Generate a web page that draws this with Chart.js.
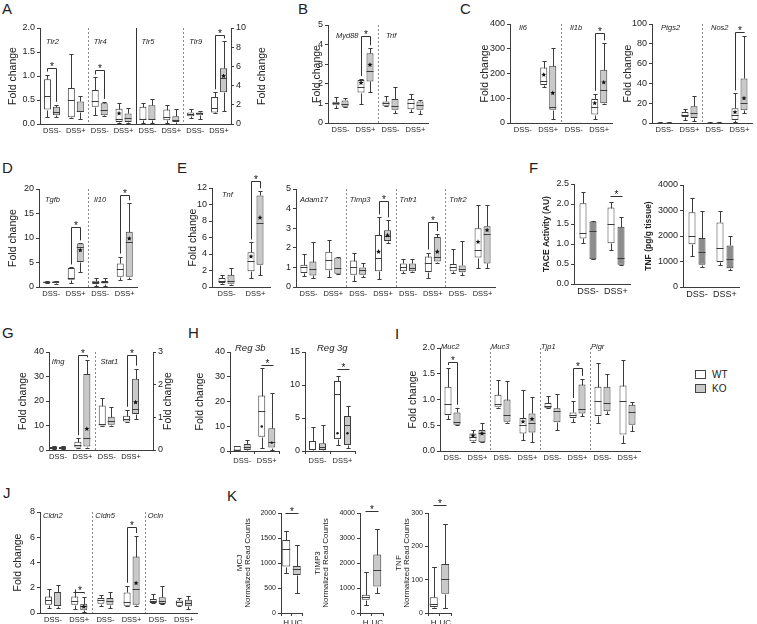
<!DOCTYPE html>
<html>
<head>
<meta charset="utf-8">
<title>Fold change box plots</title>
<script src="https://cdn.jsdelivr.net/npm/chart.js@4.4.1/dist/chart.umd.min.js"></script>
<style>
  body { margin: 0; width: 757px; height: 624px; position: relative; overflow: hidden; background: #fff;
         font-family: "Liberation Sans", Arial, sans-serif; color: #222; }
  canvas { position: absolute; }
  .tag { position: absolute; font-size: 15px; line-height: 15px; }
  .key { position: absolute; left: 695px; font-size: 10px; line-height: 10px; }
  .key i { display: inline-block; width: 9px; height: 7px; border: 1px solid #444; margin-right: 6px; vertical-align: -1px; }
</style>
</head>
<body>
<div class="tag" style="left:2px;top:1px">A</div>
<div class="tag" style="left:298px;top:1px">B</div>
<div class="tag" style="left:460px;top:1px">C</div>
<div class="tag" style="left:2px;top:160px">D</div>
<div class="tag" style="left:177px;top:160px">E</div>
<div class="tag" style="left:529px;top:160px">F</div>
<div class="tag" style="left:2px;top:325px">G</div>
<div class="tag" style="left:188px;top:325px">H</div>
<div class="tag" style="left:395px;top:326px">I</div>
<div class="tag" style="left:3px;top:485px">J</div>
<div class="tag" style="left:227px;top:488px">K</div>
<div class="key" style="top:370px"><i style="background:#fff"></i>WT</div>
<div class="key" style="top:384px"><i style="background:#c9c9c9"></i>KO</div>
<script>
// box stats: [min, q1, median, q3, max, mean]
const dss4 = ['DSS-', 'DSS+', 'DSS-', 'DSS+'];
const dss6 = ['DSS-', 'DSS+', 'DSS-', 'DSS+', 'DSS-', 'DSS+'];
const dss8 = ['DSS-', 'DSS+', 'DSS-', 'DSS+', 'DSS-', 'DSS+', 'DSS-', 'DSS+'];
const dss2 = ['DSS-', 'DSS+'];

// A
const tlrGenes = ['Tlr2', 'Tlr4', 'Tlr5', 'Tlr9'];
const tlrWT = [[0.15, 0.3, 0.58, 0.93, 1.03], [0.13, 0.14, 0.5, 0.75, 1.45], [0.18, 0.36, 0.48, 0.71, 0.97],
  [0.02, 0.04, 0.11, 0.32, 0.43, 0.22], [0.02, 0.09, 0.1, 0.36, 0.44], [0.02, 0.08, 0.15, 0.3, 0.4], null, null];
const tlrKO = [[0.14, 0.18, 0.24, 0.36, 0.4], [0.1, 0.25, 0.27, 0.47, 0.59], [0.16, 0.18, 0.29, 0.43, 0.46],
  [0.02, 0.04, 0.13, 0.22, 0.34], [0.02, 0.09, 0.1, 0.39, 0.53], [0.01, 0.04, 0.08, 0.16, 0.32], null, null];
const tlr9WT = [null, null, null, null, null, null, [0.6, 0.8, 1.0, 1.2, 1.6], [1.1, 1.2, 1.7, 2.8, 3.3]];
const tlr9KO = [null, null, null, null, null, null, [0.5, 0.9, 1.1, 1.2, 1.4], [1.4, 3.3, 4.8, 5.8, 8.6, 5.0]];
const tlrSig = [[0, 1.17], [2, 1.13], [7, 9.3]];

// B
const mydGenes = ['Myd88', 'Trif'];
const mydWT = [[0.78, 0.9, 1.0, 1.08, 1.35], [0.95, 1.55, 1.85, 2.2, 2.24, 2.05], [0.85, 0.88, 1.0, 1.1, 1.36], [0.58, 0.7, 1.0, 1.22, 1.5]];
const mydKO = [[0.8, 0.83, 0.97, 1.15, 1.27], [1.6, 2.12, 2.63, 3.56, 3.81, 2.97], [0.5, 0.68, 0.88, 1.22, 1.83], [0.45, 0.68, 0.9, 1.1, 1.17]];
const mydSig = [[1, 4.44]];

// C
const ilGenes = ['Il6', 'Il1b'];
const ilWT = [[0, 0.5, 1, 1.5, 2], [145, 154, 170, 224, 251, 195], [0, 0.5, 1, 1.5, 2], [16, 34, 64, 97, 118, 80]];
const ilKO = [[0, 0.5, 1, 1.5, 2], [16, 54, 64, 231, 302, 121], [0, 0.5, 1, 1.5, 2], [76, 80, 134, 215, 322, 164]];
const ilSig = [[3, 362]];
const ptGenes = ['Ptgs2', 'Nos2'];
const ptWT = [[0, 0.2, 0.5, 0.8, 1], [3, 6, 8, 11, 14], [0, 0.2, 0.5, 0.8, 1], [1, 3, 8, 15, 30, 11]];
const ptKO = [[0, 0.2, 0.5, 0.8, 1], [2, 5, 10, 17, 27], [0, 0.2, 0.5, 0.8, 1], [10, 13, 20, 45, 88, 25]];
const ptSig = [[3, 92]];

// D
const tgGenes = ['Tgfb', 'Il10'];
const tgWT = [[0.8, 0.9, 1.0, 1.1, 1.2], [0.8, 1.5, 1.8, 3.9, 4.0], [0.3, 0.6, 1.0, 1.3, 1.8], [1.4, 2.1, 3.6, 4.8, 6.2]];
const tgKO = [[0.7, 0.85, 1.0, 1.15, 1.3], [3.1, 5.1, 8.1, 8.9, 8.9, 7.5], [0.3, 0.7, 1.0, 1.2, 1.8], [1.7, 2.1, 9.2, 11.3, 17.1, 9.9]];
const tgSig = [[1, 12.3], [3, 18.8]];

// E
const tnfGenes = ['Tnf'];
const tnfWT = [[0.4, 0.5, 0.7, 1.1, 1.5], [1.1, 1.9, 3.1, 4.2, 5.4, 3.7]];
const tnfKO = [[0.3, 0.4, 0.7, 1.5, 2.3], [1.5, 2.7, 7.8, 11.1, 11.6, 8.4]];
const tnfSig = [[1, 12.9]];
const adamGenes = ['Adam17', 'Timp3', 'Tnfr1', 'Tnfr2'];
const adamWT = [[0.54, 0.71, 1.0, 1.14, 1.68], [0.5, 0.85, 1.4, 1.8, 2.4], [0.33, 0.63, 1.0, 1.35, 1.76], [0.4, 0.8, 1.46, 2.65, 3.55, 1.8],
  [0.7, 0.8, 1.0, 1.2, 1.45], [0.45, 0.77, 1.25, 1.55, 1.76], [0.7, 0.8, 1.0, 1.17, 1.93], [0.97, 1.5, 1.9, 3.0, 4.2, 2.3]];
const adamKO = [[0.45, 0.59, 0.9, 1.3, 2.3], [0.65, 0.68, 0.97, 1.5, 1.55], [0.5, 0.63, 0.86, 1.0, 1.25], [2.25, 2.35, 2.6, 2.9, 3.4, 2.63],
  [0.75, 0.8, 0.95, 1.2, 1.45], [1.2, 1.3, 1.55, 2.55, 2.7, 1.8], [0.6, 0.75, 0.93, 1.1, 2.36], [0.97, 1.2, 2.7, 3.1, 4.2, 2.9]];
const adamSig = [[3, 4.4], [5, 3.3]];

// F
const taceWT = [[1.02, 1.14, 1.27, 2.02, 2.31], [0.85, 1.02, 1.5, 1.91, 2.06]];
const taceKO = [[0.62, 0.62, 1.33, 1.56, 1.58], [0.48, 0.48, 0.64, 1.43, 1.67]];
const taceSig = [[1, 2.2]];
const tnfProtWT = [[1200, 1680, 2000, 2930, 3500], [860, 980, 1530, 2530, 3000]];
const tnfProtKO = [[780, 870, 1360, 1920, 3000], [650, 740, 1110, 1630, 2000]];

// G
const ifGenes = ['Ifng', 'Stat1'];
const ifWT = [[0.5, 0.8, 1, 1.2, 1.5], [0.7, 1.0, 2.1, 3.4, 4.8], null, null];
const ifKO = [[0.5, 0.8, 1, 1.2, 1.5], [1.0, 1.4, 5.1, 31, 36.6, 8.6], null, null];
const statWT = [null, null, [0.75, 0.75, 0.79, 1.36, 1.59], [0.85, 0.87, 0.95, 1.05, 1.23]];
const statKO = [null, null, [0.75, 0.77, 0.89, 1.02, 1.31], [0.95, 1.1, 1.26, 2.18, 2.49, 1.46]];
const ifSig = [[1, 38.8], [3, 2.9]];

// H
const reg3bWT = [[0, 0, 0.4, 2.0, 2.2], [1.4, 5.8, 16, 22.4, 33.5, 9.9]];
const reg3bKO = [[0, 0.4, 1.5, 2.8, 4.5], [0.4, 1.4, 3.8, 9.2, 23.4, 3.4]];
const reg3gWT = [[0, 0.15, 0.3, 1.5, 3.6], [0.9, 1.8, 8.6, 10.6, 11.4, 2.7]];
const reg3gKO = [[0, 0.15, 0.55, 1.16, 3.9], [0.4, 0.9, 3.9, 5.3, 6.8, 2.7]];
const reg3bSig = [[1, 34.6]];
const reg3gSig = [[1, 12.5]];

// I
const mucGenes = ['Muc2', 'Muc3', 'Tjp1', 'Pigr'];
const mucWT = [[0.62, 0.7, 0.91, 1.25, 1.61], [0.18, 0.19, 0.28, 0.34, 0.41, 0.3], [0.84, 0.86, 0.91, 1.09, 1.37], [0.21, 0.34, 0.51, 0.64, 1.18, 0.57],
  [0.83, 0.83, 0.88, 0.93, 1.07], [0.57, 0.64, 0.69, 0.75, 0.97], [0.55, 0.68, 0.98, 1.25, 1.71], [0.16, 0.32, 0.98, 1.27, 1.77]];
const mucKO = [[0.51, 0.51, 0.56, 0.75, 0.84], [0.17, 0.17, 0.34, 0.41, 0.55, 0.34], [0.54, 0.57, 0.7, 1.0, 1.35], [0.18, 0.36, 0.55, 0.73, 1.04, 0.62],
  [0.41, 0.56, 0.77, 0.83, 1.1], [0.68, 0.73, 0.81, 1.29, 1.4], [0.71, 0.77, 0.93, 1.25, 1.49], [0.39, 0.51, 0.75, 0.9, 0.95]];
const mucSig = [[0, 1.73], [5, 1.61]];

// J
const cldnGenes = ['Cldn2', 'Cldn5', 'Ocln'];
const cldnWT = [[0.4, 0.66, 1.0, 1.3, 1.9], [0.32, 0.66, 0.92, 1.3, 1.63], [0.58, 0.74, 1.0, 1.18, 1.45],
  [0.53, 0.58, 0.84, 1.63, 2.16], [0.8, 0.8, 0.97, 1.1, 1.5], [0.53, 0.58, 0.84, 1.0, 1.18]];
const cldnKO = [[0.4, 0.58, 0.66, 1.66, 2.24], [0.05, 0.21, 0.53, 0.74, 1.3, 0.5], [0.4, 0.66, 0.92, 1.18, 1.7],
  [0.53, 0.66, 1.9, 4.47, 6.1, 2.37], [0.71, 0.71, 0.92, 1.24, 2.1], [0.32, 0.53, 0.79, 1.05, 1.32]];
const cldnSig = [[1, 1.7], [3, 6.8]];

// K
const hucLabels = ['H', 'UC'];
const mcjCounts = [[810, 930, 1280, 1460, 1640], [400, 760, 890, 940, 1360]];
const timp3Counts = [[330, 530, 640, 730, 1660], [790, 1060, 1720, 2340, 3380]];
const tnfCounts = [[15, 18, 27, 47, 138], [15, 58, 102, 147, 268]];
const mcjSig = [[0, 2000]];
const timp3Sig = [[0, 4070]];
const tnfCountSig = [[0, 325]];

const FONT = '"Liberation Sans", Arial, sans-serif';
const LINE = '#3c3c3c';
const WT = '#ffffff', KO = '#c9c9c9', KO_DARK = '#8c8c8c';

Chart.defaults.font.family = FONT;
Chart.defaults.color = '#222';
Chart.defaults.animation = false;
Chart.defaults.events = [];
Chart.defaults.plugins.legend.display = false;
Chart.defaults.plugins.tooltip.enabled = false;

function seg(ctx, x1, y1, x2, y2) {
  ctx.beginPath(); ctx.moveTo(x1, y1); ctx.lineTo(x2, y2); ctx.stroke();
}

function star(ctx, x, y, r) {
  ctx.beginPath();
  for (let k = 0; k < 10; k++) {
    const rr = k % 2 ? r * 0.45 : r;
    const ang = -Math.PI / 2 + k * Math.PI / 5;
    ctx.lineTo(x + rr * Math.cos(ang), y + rr * Math.sin(ang));
  }
  ctx.closePath(); ctx.fill();
}

// whiskers, medians, means, gene labels, dividers and significance marks
const boxPlugin = {
  id: 'boxes',
  beforeDatasetsDraw(chart, args, o) {
    const {ctx, chartArea: a} = chart;
    const x = chart.scales.x;
    ctx.save();
    (o.dividers || []).forEach(([k, solid]) => {
      const px = Math.round(x.getPixelForValue(k - 0.5)) + 0.5;
      ctx.strokeStyle = solid ? '#333' : '#8a8a8a';
      ctx.lineWidth = 1;
      ctx.setLineDash(solid ? [] : [2, 2]);
      seg(ctx, px, a.top, px, a.bottom);
    });
    ctx.setLineDash([]);
    ctx.fillStyle = '#222';
    ctx.font = 'italic ' + (o.gSize || 7.5) + 'px ' + FONT;
    ctx.textBaseline = 'middle';
    (o.genes || []).forEach((g, n) => {
      const k = n * (o.span || 2);
      ctx.fillText(g, x.getPixelForValue(k - 0.5) + (o.gx || 5), a.top + (o.gy || 10));
    });
    // right-hand axis title, read bottom to top like the left one
    if (o.rTitle) {
      ctx.save();
      ctx.font = '10.5px ' + FONT;
      ctx.textAlign = 'center';
      ctx.translate(o.rTitle.x - chart.canvas.offsetLeft, (a.top + a.bottom) / 2);
      ctx.rotate(-Math.PI / 2);
      ctx.fillText(o.rTitle.text, 0, 0);
      ctx.restore();
    }
    ctx.restore();
  },
  afterDatasetsDraw(chart, args, o) {
    const ctx = chart.ctx;
    ctx.save();
    ctx.strokeStyle = LINE;
    ctx.fillStyle = '#111';
    ctx.lineWidth = 1;
    chart.data.datasets.forEach((ds, di) => {
      const meta = chart.getDatasetMeta(di);
      const ys = chart.scales[ds.yAxisID];
      ds.stats.forEach((s, i) => {
        if (!s) return;
        const el = meta.data[i];
        const cx = Math.round(el.x) + 0.5, w = el.width, cap = w * 0.3;
        const Y = v => Math.round(ys.getPixelForValue(v)) + 0.5;
        seg(ctx, cx, Y(s[3]), cx, Y(s[4]));
        seg(ctx, cx, Y(s[1]), cx, Y(s[0]));
        seg(ctx, cx - cap, Y(s[4]), cx + cap, Y(s[4]));
        seg(ctx, cx - cap, Y(s[0]), cx + cap, Y(s[0]));
        seg(ctx, el.x - w / 2, Y(s[2]), el.x + w / 2, Y(s[2]));
        if (s[5] != null) {
          if (o.dot) { ctx.beginPath(); ctx.arc(el.x, ys.getPixelForValue(s[5]), 1.2, 0, 2 * Math.PI); ctx.fill(); }
          else star(ctx, el.x, ys.getPixelForValue(s[5]), 2.6);
        }
      });
    });
    ctx.strokeStyle = '#333';
    ctx.font = (o.starSize || 10) + 'px ' + FONT;
    ctx.textAlign = 'center';
    ctx.textBaseline = 'alphabetic';
    (o.sig || []).forEach(([i, v]) => {
      const pts = [];
      chart.data.datasets.forEach((ds, di) => {
        if (ds.stats[i]) pts.push({el: chart.getDatasetMeta(di).data[i], s: ds.stats[i], ys: chart.scales[ds.yAxisID]});
      });
      if (pts.length === 1) {
        const ds = chart.data.datasets[0];
        pts.push({el: chart.getDatasetMeta(0).data[i + 1], s: ds.stats[i + 1], ys: chart.scales[ds.yAxisID]});
      }
      const [p1, p2] = pts;
      const yy = Math.round(p1.ys.getPixelForValue(v)) + 0.5;
      const x1 = Math.round(p1.el.x) + 0.5, x2 = Math.round(p2.el.x) + 0.5;
      ctx.beginPath();
      if (o.line) {
        ctx.moveTo(x1 - 1, yy); ctx.lineTo(x2 + 1, yy);
      } else {
        ctx.moveTo(x1, p1.ys.getPixelForValue(p1.s[4]) - 3);
        ctx.lineTo(x1, yy); ctx.lineTo(x2, yy);
        ctx.lineTo(x2, p2.ys.getPixelForValue(p2.s[4]) - 3);
      }
      ctx.stroke();
      ctx.fillText('*', (x1 + x2) / 2, yy + 1);
    });
    ctx.restore();
  }
};
Chart.register(boxPlugin);

function axis(a, pos, w, fromEdge, showTitle) {
  const size = a.tSize || 10.5, lh = a.tLH || 1.2;
  return {
    position: pos, min: a.min, max: a.max,
    grid: {display: true, drawOnChartArea: false, drawTicks: true, tickLength: 3, color: LINE},
    border: {display: true, color: LINE},
    ticks: {stepSize: a.step, font: {size: a.fs || 9}, padding: 2, color: '#222',
      callback: v => v.toFixed(a.dec || 0)},
    title: {display: showTitle && !!a.title, text: a.title, color: '#222',
      font: {size: size, lineHeight: lh, weight: a.bold ? 'bold' : 'normal'},
      padding: {top: Math.max(0, fromEdge - size * lh / 2), bottom: 0}},
    afterFit: s => { s.width = w; }
  };
}

function titleRoom(a) {
  return a.title ? (a.tSize || 10.5) * (a.tLH || 1.2) / 2 + 2 : 0;
}

function boxChart(p) {
  const [l, t, r, b] = p.plot;
  const yW = Math.max(p.y.title ? Math.ceil(l - p.y.tx + titleRoom(p.y)) : 0, p.yW || 26);
  const y2W = p.y2 ? Math.ceil(p.y2.tx - r + titleRoom(p.y2)) : 0;
  const padR = p.y2 ? 0 : 6, padT = p.padT || 16, xH = p.xH || 14;
  const [pl, pr] = p.xPad || [0, 0];
  const n = p.labels.length;
  const cat = (r - l) / (n + pl + pr);
  const bw = p.bw || 7, gap = p.gap == null ? 2 : p.gap;
  const per = p.sets.length > 1 ? 2 : 1;

  const cv = document.createElement('canvas');
  cv.width = r - l + yW + y2W + padR;
  cv.height = b - t + padT + xH;
  cv.style.left = (l - yW) + 'px';
  cv.style.top = (t - padT) + 'px';
  document.body.appendChild(cv);

  const scales = {
    x: {
      type: 'category', offset: true,
      grid: {display: !!p.xTicks, drawOnChartArea: false, drawTicks: !!p.xTicks, tickLength: 3, color: LINE},
      border: {display: true, color: LINE},
      ticks: {font: {size: p.xFont || 7.5}, padding: 2, maxRotation: 0, autoSkip: false, color: '#222'},
      afterFit: s => { s.height = xH; },
      afterBuildTicks: s => { s._startValue -= pl; s._valueRange += pl + pr; }
    },
    y: axis(p.y, 'left', yW, p.y.tx - (l - yW), true)
  };
  if (p.y2) scales.y2 = axis(p.y2, 'right', y2W, 0, false);

  const datasets = p.sets.map(s => ({
    data: s.stats.map(v => v ? [v[1], v[3]] : null),
    stats: s.stats,
    yAxisID: s.axis || 'y',
    backgroundColor: s.fill,
    borderColor: LINE,
    borderWidth: 1,
    borderSkipped: false,
    skipNull: true,
    categoryPercentage: per * (bw + gap) / cat,
    barPercentage: bw / (bw + gap)
  }));

  new Chart(cv, {
    type: 'bar',
    data: {labels: p.labels, datasets},
    options: {
      responsive: false,
      devicePixelRatio: 1,
      layout: {padding: {top: padT, right: padR, left: 0, bottom: 0}},
      scales,
      plugins: {
        boxes: {genes: p.genes, gx: p.gx, gy: p.gy, gSize: p.gSize, span: p.span,
          dividers: p.dividers, sig: p.sig, line: p.line, dot: p.dot,
          rTitle: p.y2 && p.y2.title ? {text: p.y2.title, x: p.y2.tx} : null}
      }
    }
  });
}

const pair = (wt, ko, fill) => [{stats: wt, fill: WT}, {stats: ko, fill: fill || KO}];

// A
boxChart({
  plot: [40, 28, 231, 124], labels: dss8,
  sets: [...pair(tlrWT, tlrKO), {stats: tlr9WT, fill: WT, axis: 'y2'}, {stats: tlr9KO, fill: KO, axis: 'y2'}],
  y: {min: 0, max: 2, step: 0.5, dec: 1, title: 'Fold change', tx: 13},
  y2: {min: 0, max: 10, step: 2, title: 'Fold change', tx: 262},
  genes: tlrGenes, gx: 6, gy: 14, dividers: [[2], [4, true], [6]], sig: tlrSig
});
// B
boxChart({
  plot: [328, 25, 428, 123], labels: dss4, sets: pair(mydWT, mydKO),
  y: {min: 0, max: 5, step: 1, title: 'Fold change', tx: 317},
  genes: mydGenes, gx: 8, gy: 11, dividers: [[2]], sig: mydSig
});
// C
boxChart({
  plot: [510, 24, 612, 123], labels: dss4, sets: pair(ilWT, ilKO),
  y: {min: 0, max: 400, step: 100, title: 'Fold change', tx: 485},
  genes: ilGenes, gx: 9, gy: 4, dividers: [[2]], sig: ilSig
});
boxChart({
  plot: [652, 24, 752, 123], labels: dss4, sets: pair(ptWT, ptKO),
  y: {min: 0, max: 100, step: 20, title: 'Fold change', tx: 628},
  genes: ptGenes, gx: 9, gy: 4, dividers: [[2]], sig: ptSig
});
// D
boxChart({
  plot: [39, 189, 137, 287], labels: dss4, sets: pair(tgWT, tgKO),
  y: {min: 0, max: 20, step: 5, title: 'Fold change', tx: 13},
  genes: tgGenes, gx: 6, gy: 11, dividers: [[2]], sig: tgSig
});
// E
boxChart({
  plot: [212, 188, 270, 287], labels: dss2, sets: pair(tnfWT, tnfKO),
  y: {min: 0, max: 12, step: 2, title: 'Fold change', tx: 193},
  genes: tnfGenes, gx: 10, gy: 7, sig: tnfSig
});
boxChart({
  plot: [296, 189, 495, 287], labels: dss8, sets: pair(adamWT, adamKO),
  y: {min: 0, max: 5, step: 1},
  genes: adamGenes, gx: 4, gy: 11, dividers: [[2], [4], [6]], sig: adamSig
});
// F
boxChart({
  plot: [574, 184, 630, 284], labels: dss2, sets: pair(taceWT, taceKO, KO_DARK), xFont: 9, gap: 3,
  y: {min: 0, max: 2.5, step: 0.5, dec: 1, title: 'TACE Activity (AU)', tx: 547, tSize: 8.5, bold: true},
  sig: taceSig, line: true
});
boxChart({
  plot: [683, 185, 739, 287], labels: dss2, sets: pair(tnfProtWT, tnfProtKO, KO_DARK), xFont: 9, gap: 3,
  y: {min: 0, max: 4000, step: 1000, title: 'TNF (pg/g tissue)', tx: 649, tSize: 8.5, bold: true}
});
// G
boxChart({
  plot: [49, 352, 153, 450], labels: dss4, xPad: [-0.13, 0.4],
  sets: [...pair(ifWT, ifKO), {stats: statWT, fill: WT, axis: 'y2'}, {stats: statKO, fill: KO, axis: 'y2'}],
  y: {min: 0, max: 40, step: 10, title: 'Fold change', tx: 23},
  y2: {min: 0, max: 3, step: 1, title: 'Fold change', tx: 168},
  genes: ifGenes, gx: 6, gy: 10, dividers: [[2]], sig: ifSig
});
// H
boxChart({
  plot: [230, 352, 279, 451], labels: dss2, sets: pair(reg3bWT, reg3bKO), gap: 3, xTicks: true,
  y: {min: 0, max: 40, step: 10, title: 'Fold change', tx: 200},
  genes: ['Reg 3b'], gx: 5, gy: -4, gSize: 9.5, sig: reg3bSig, line: true, dot: true
});
boxChart({
  plot: [305, 352, 355, 451], labels: dss2, sets: pair(reg3gWT, reg3gKO), gap: 3, xTicks: true,
  y: {min: 0, max: 15, step: 5},
  genes: ['Reg 3g'], gx: 12, gy: -4, gSize: 9.5, sig: reg3gSig, line: true, dot: true
});
// I
boxChart({
  plot: [440, 348, 640, 451], labels: dss8, sets: pair(mucWT, mucKO),
  y: {min: 0, max: 2, step: 0.5, dec: 1, title: 'Fold change', tx: 413},
  genes: mucGenes, gx: 1, gy: -1, dividers: [[2], [4], [6]], sig: mucSig
});
// J
boxChart({
  plot: [40, 512, 197, 613], labels: dss6, sets: pair(cldnWT, cldnKO),
  y: {min: 0, max: 8, step: 2, title: 'Fold change', tx: 18},
  genes: cldnGenes, gx: 3, gy: 4, dividers: [[2], [4]], sig: cldnSig
});
// K
const hucSet = stats => [{stats, fill: [WT, KO]}];
boxChart({
  plot: [281, 513, 302, 613], labels: hucLabels, sets: hucSet(mcjCounts), bw: 8, gap: 0, xTicks: true, xFont: 8,
  y: {min: 0, max: 2000, step: 500, fs: 7, title: ['MCJ', 'Normalized Read Counts'], tx: 240, tSize: 8, tLH: 1},
  sig: mcjSig, line: true
});
boxChart({
  plot: [360, 513, 383, 613], labels: hucLabels, sets: hucSet(timp3Counts), bw: 8, gap: 0, xTicks: true, xFont: 8,
  y: {min: 0, max: 4000, step: 1000, fs: 7, title: ['TIMP3', 'Normalized Read Counts'], tx: 318, tSize: 8, tLH: 1},
  sig: timp3Sig, line: true
});
boxChart({
  plot: [428, 513, 451, 613], labels: hucLabels, sets: hucSet(tnfCounts), bw: 8, gap: 0, xTicks: true, xFont: 8,
  y: {min: 0, max: 300, step: 100, fs: 7, title: ['TNF', 'Normalized Read Counts'], tx: 399, tSize: 8, tLH: 1},
  sig: tnfCountSig, line: true
});
</script>
</body>
</html>
